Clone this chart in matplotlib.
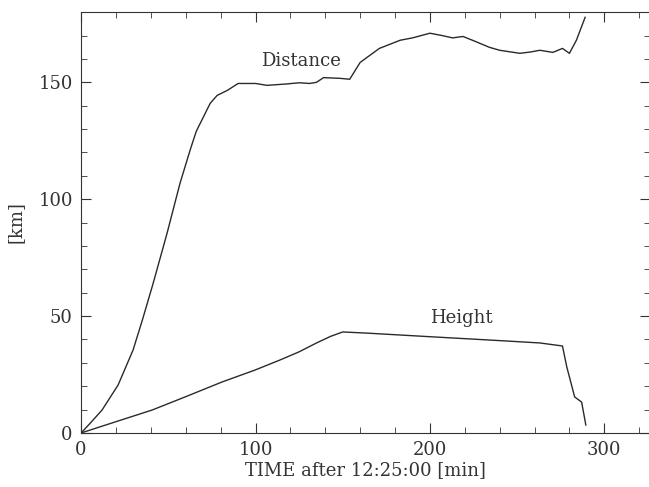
import numpy as np
import matplotlib.pyplot as plt
from matplotlib.ticker import MultipleLocator

# Distance [km] vs time [min]
dist_t = [0, 5, 12, 21.2, 29.8, 35, 41.3, 49.3, 56.7, 62.5, 66, 70, 74, 78,
          84, 90, 100, 106.6, 118, 125, 131, 135, 139, 148.4, 154, 160, 171,
          183, 190, 200, 207, 213, 219, 226, 234, 240, 251.6, 258, 263, 270.5,
          276, 280, 284, 289]
dist_km = [0, 4, 9.8, 20.5, 35.5, 48, 64, 85.5, 106.8, 121, 129, 135, 141,
           144.4, 146.6, 149.5, 149.5, 148.7, 149.3, 149.8, 149.5, 150, 152,
           151.7, 151.3, 158.5, 164.5, 168, 169, 171, 170, 169, 169.6, 167.5,
           165, 163.7, 162.4, 163, 163.7, 162.8, 164.5, 162.4, 168, 177.8]

# Height [km] vs time [min]
height_t = [0, 19.5, 40.7, 59.6, 80.8, 99.7, 114, 125, 135, 143, 150, 164,
            204, 240, 263, 276, 278.5, 283, 287, 289.4]
height_km = [0, 4.7, 9.8, 15.4, 21.8, 26.9, 31.2, 34.7, 38.5, 41.3, 43.2,
             42.7, 41, 39.5, 38.5, 37.2, 28.2, 15.4, 13.2, 3.4]

plt.rcParams['font.family'] = 'DejaVu Serif'

fig = plt.figure(figsize=(6.49, 4.87), dpi=100)
ax = fig.add_axes([0.125, 0.111, 0.876, 0.864])

ax.plot(dist_t, dist_km, color='#2a2a2a', lw=1)
ax.plot(height_t, height_km, color='#2a2a2a', lw=1)

ax.text(126, 159, 'Distance', ha='center', va='center', fontsize=13, color='#333333')
ax.text(218, 49, 'Height', ha='center', va='center', fontsize=13, color='#333333')

ax.set_xlim(0, 326)
ax.set_ylim(0, 180)
ax.xaxis.set_major_locator(MultipleLocator(100))
ax.xaxis.set_minor_locator(MultipleLocator(20))
ax.yaxis.set_major_locator(MultipleLocator(50))
ax.yaxis.set_minor_locator(MultipleLocator(10))
ax.tick_params(which='both', direction='in', top=True, right=True,
               labelsize=13, colors='#333333', pad=6)
ax.tick_params(which='major', length=7)
ax.tick_params(which='minor', length=4)
for s in ax.spines.values():
    s.set_color('#333333')

ax.set_xlabel('TIME after 12:25:00 [min]', fontsize=13, color='#333333', labelpad=1)
ax.set_ylabel('[km]', fontsize=13, color='#333333')
ax.yaxis.set_label_coords(-0.1, 0.5)

fig.savefig('out.png', dpi=100)
